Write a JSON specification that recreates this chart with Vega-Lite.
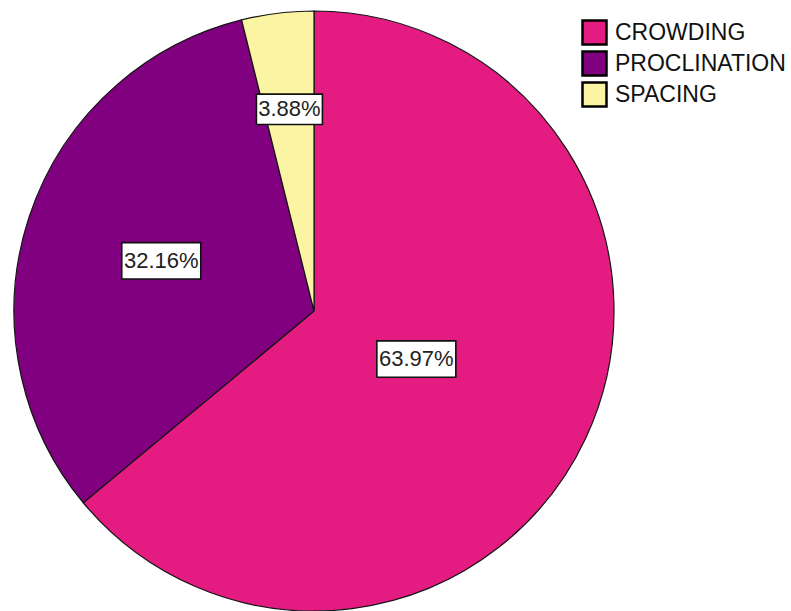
{
  "$schema": "https://vega.github.io/schema/vega-lite/v6.json",
  "width": 628,
  "height": 600,
  "autosize": {"type": "none"},
  "padding": {"left": 0, "top": 11, "right": 163, "bottom": 0},
  "background": "white",
  "view": {"stroke": null},
  "data": {
    "values": [
      {"category": "CROWDING", "value": 0.6397},
      {"category": "PROCLINATION", "value": 0.3216},
      {"category": "SPACING", "value": 0.0388}
    ]
  },
  "layer": [
    {
      "mark": {"type": "arc", "outerRadius": 300, "stroke": "#141414", "strokeWidth": 1.2},
      "encoding": {
        "theta": {"field": "value", "type": "quantitative", "stack": true},
        "order": {"field": "category", "sort": "ascending"},
        "color": {
          "field": "category",
          "type": "nominal",
          "scale": {
            "domain": ["CROWDING", "PROCLINATION", "SPACING"],
            "range": ["#E41B80", "#800080", "#FBF4A2"]
          },
          "legend": {
            "title": null,
            "orient": "none",
            "legendX": 581,
            "legendY": 8,
            "symbolType": "square",
            "symbolSize": 576,
            "symbolStrokeColor": "#000",
            "symbolStrokeWidth": 2.5,
            "symbolOpacity": 1,
            "labelFont": "Liberation Sans",
            "labelFontSize": 23,
            "labelColor": "#111",
            "labelOffset": 7,
            "labelLimit": 300,
            "rowPadding": -8,
            "padding": 0
          }
        }
      }
    },
    {
      "transform": [
        {"stack": "value", "groupby": [], "sort": [{"field": "category", "order": "ascending"}], "as": ["v0", "v1"]},
        {"calculate": "PI * (datum.v0 + datum.v1)", "as": "mid"},
        {"calculate": "209 - 150 * datum.value", "as": "r"},
        {"calculate": "datum.r * sin(datum.mid)", "as": "lx"},
        {"calculate": "datum.r * cos(datum.mid)", "as": "ly"}
      ],
      "encoding": {
        "x": {"field": "lx", "type": "quantitative", "scale": {"domain": [-314, 314], "zero": false, "nice": false}, "axis": null},
        "y": {"field": "ly", "type": "quantitative", "scale": {"domain": [-300, 300], "zero": false, "nice": false}, "axis": null}
      },
      "layer": [
        {
          "mark": {"type": "point", "shape": "M-1,-0.46H1V0.46H-1Z", "filled": true, "fill": "#FFFFFF", "stroke": "#111", "strokeWidth": 1.6, "opacity": 1, "fillOpacity": 1, "strokeOpacity": 1},
          "encoding": {
            "size": {"field": "value", "type": "quantitative", "scale": {"type": "threshold", "domain": [0.1], "range": [4356, 6241]}, "legend": null}
          }
        },
        {
          "mark": {"type": "text", "font": "Liberation Sans", "fontSize": 22, "fill": "#222", "align": "center", "baseline": "middle"},
          "encoding": {
            "text": {"field": "value", "type": "quantitative", "format": ".2%"}
          }
        }
      ]
    }
  ]
}
